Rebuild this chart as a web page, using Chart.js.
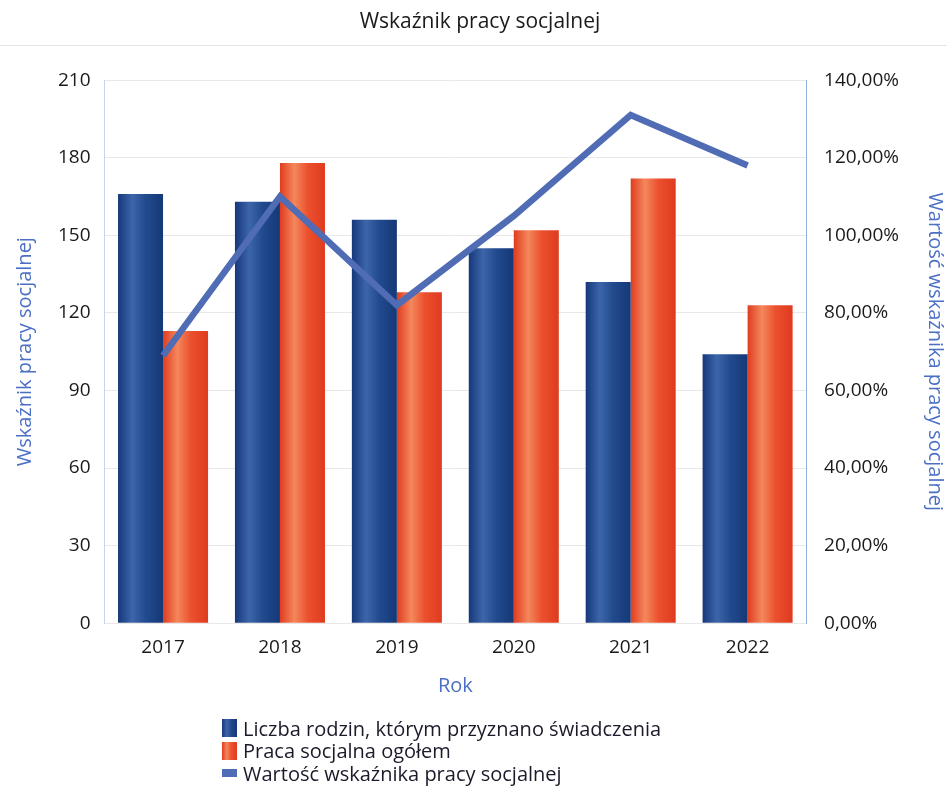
<!DOCTYPE html>
<html>
<head>
<meta charset="utf-8">
<script src="https://cdn.jsdelivr.net/npm/chart.js@4.4.0/dist/chart.umd.min.js"></script>
<style>
    body { margin: 0; background: #fff; font-family: "Open Sans", sans-serif; }
    #wrap { position: relative; width: 947px; height: 792px; }
    #legend { position: absolute; left: 222px; top: 717px; font-size: 20px; color: #1a1a2a; }
    #legend div { display: flex; align-items: center; height: 22.5px; }
    #legend span.box { display: inline-block; width: 15px; height: 18px; margin-right: 6px; }
</style>
</head>
<body>
<div id="wrap">
    <canvas id="chart" width="947" height="792"></canvas>
    <div id="legend"></div>
</div>
<script>
const years = ['2017', '2018', '2019', '2020', '2021', '2022'];
const rodziny = [166, 163, 156, 145, 132, 104];
const praca = [113, 178, 128, 152, 172, 123];
const wskaznik = [69, 110, 82, 105, 131, 118];
const leftTicks = [0, 30, 60, 90, 120, 150, 180, 210];
const rightTicks = [0, 20, 40, 60, 80, 100, 120, 140];

const fmtPct = v => v.toFixed(2).replace('.', ',') + '%';
const tickFont = { family: 'Open Sans', size: 19 };
const axisTitleFont = { family: 'Open Sans', size: 20 };
const catPct = 0.77;

const blueStops = [[0, '#16387a'], [0.32, '#3d66aa'], [0.62, '#214a8d'], [1, '#153877']];
const redStops = [[0, '#e03c1f'], [0.32, '#f4875c'], [0.62, '#eb502d'], [1, '#df3b1f']];

// cylinder-like shading across each bar, like the original
function barShade(stops, slot) {
    return ctx => {
        const chart = ctx.chart;
        const xs = chart.scales.x;
        if (!chart.chartArea || !xs) return stops[2][1];
        const center = xs.getPixelForValue(ctx.dataIndex);
        const barW = xs.width / years.length * catPct / 2;
        const left = center - barW + slot * barW;
        const g = chart.ctx.createLinearGradient(left, 0, left + barW, 0);
        stops.forEach(s => g.addColorStop(s[0], s[1]));
        return g;
    };
}

const cssGradient = stops => 'linear-gradient(to right, ' +
    stops.map(s => s[1] + ' ' + (s[0] * 100) + '%').join(', ') + ')';

// faint line under the title
const titleLine = {
    id: 'titleLine',
    beforeDraw(chart) {
        const c = chart.ctx;
        c.save();
        c.strokeStyle = '#e4e4e4';
        c.lineWidth = 1;
        c.beginPath();
        c.moveTo(0, 45.5);
        c.lineTo(chart.width, 45.5);
        c.stroke();
        c.restore();
    }
};

const chart = new Chart(
    document.getElementById('chart'),
    {
        type: 'bar',
        data: {
            labels: years,
            datasets: [
                {
                    type: 'line',
                    label: 'Wartość wskaźnika pracy socjalnej',
                    data: wskaznik,
                    yAxisID: 'y1',
                    borderColor: '#4f6cb5',
                    backgroundColor: '#4f6cb5',
                    borderWidth: 6.5,
                    pointRadius: 0,
                    tension: 0,
                    order: 0
                },
                {
                    label: 'Liczba rodzin, którym przyznano świadczenia',
                    data: rodziny,
                    backgroundColor: barShade(blueStops, 0),
                    yAxisID: 'y',
                    order: 1
                },
                {
                    label: 'Praca socjalna ogółem',
                    data: praca,
                    backgroundColor: barShade(redStops, 1),
                    yAxisID: 'y',
                    order: 1
                }
            ]
        },
        options: {
            responsive: false,
            animation: false,
            datasets: {
                bar: { barPercentage: 1, categoryPercentage: catPct }
            },
            layout: { padding: { left: 13, right: 0, bottom: 90 } },
            plugins: {
                legend: { display: false },
                tooltip: { enabled: false },
                title: {
                    display: true,
                    text: 'Wskaźnik pracy socjalnej',
                    color: '#1a1a1a',
                    font: { family: 'Open Sans', size: 21, weight: 'normal' },
                    padding: { top: 9, bottom: 46 }
                }
            },
            scales: {
                x: {
                    grid: { display: false },
                    border: { display: false },
                    ticks: { color: '#1a1a1a', font: tickFont, padding: 5 },
                    title: {
                        display: true,
                        text: 'Rok',
                        color: '#4a6fc4',
                        font: axisTitleFont,
                        padding: { top: 10 }
                    }
                },
                y: {
                    min: 0,
                    max: 210,
                    afterBuildTicks: axis => { axis.ticks = leftTicks.map(v => ({value: v})); },
                    grid: { color: '#e8e8e8', drawTicks: false },
                    border: { color: '#c2d6ec' },
                    ticks: { color: '#1a1a1a', font: tickFont, padding: 14 },
                    title: {
                        display: true,
                        text: 'Wskaźnik pracy socjalnej',
                        color: '#4a6fc4',
                        font: axisTitleFont,
                        padding: { top: 0, bottom: 7 }
                    }
                },
                y1: {
                    position: 'right',
                    min: 0,
                    max: 140,
                    afterBuildTicks: axis => { axis.ticks = rightTicks.map(v => ({value: v})); },
                    grid: { display: false },
                    border: { color: '#8fb0de', dash: [2, 2] },
                    ticks: {
                        color: '#1a1a1a',
                        font: tickFont,
                        padding: 10,
                        callback: v => fmtPct(v)
                    },
                    title: {
                        display: true,
                        text: 'Wartość wskaźnika pracy socjalnej',
                        color: '#4a6fc4',
                        font: axisTitleFont,
                        padding: { top: 0, bottom: 14 }
                    }
                }
            }
        },
        plugins: [titleLine]
    }
);

// legend in the order of the reference: bars first, then the line
const legend = document.getElementById('legend');
[[1, blueStops], [2, redStops], [0, null]].forEach(([i, stops]) => {
    const ds = chart.data.datasets[i];
    const row = document.createElement('div');
    const box = document.createElement('span');
    box.className = 'box';
    if (stops) {
        box.style.background = cssGradient(stops);
    } else {
        box.style.background = ds.borderColor;
        box.style.height = '8px';
    }
    row.appendChild(box);
    row.appendChild(document.createTextNode(ds.label));
    legend.appendChild(row);
});
</script>
</body>
</html>
